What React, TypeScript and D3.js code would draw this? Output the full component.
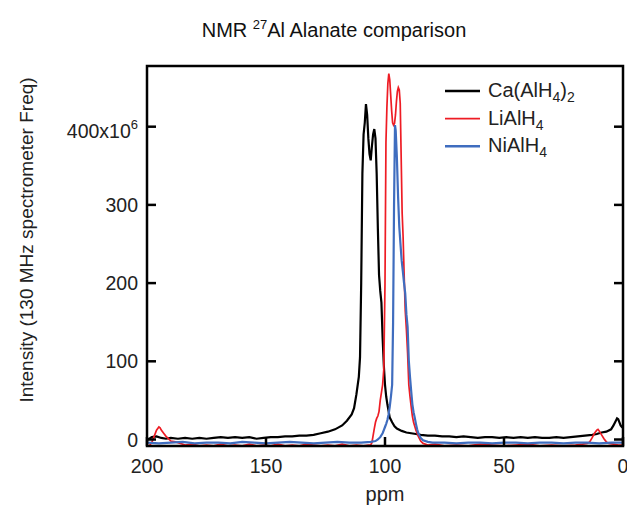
import React from "react";
import * as d3 from "d3";

// chemical shift (ppm) and intensity (x10^6)
const caPpm = [200,199,198,196,194,192,190,187,184,181,178,175,172,169,166,163,160,157,154,151,148,145,142,139,136,133,130,127,124,121,118,116,114,113,112,111,110.5,110,109.5,109,108.5,108,107.5,107,106.5,106,105.5,105,104.5,104,103.5,103,102.5,102,101.5,101,100.5,100,99.5,99,98,97,96,95,93,91,89,87,85,82,79,76,73,70,67,64,61,58,55,52,49,46,43,40,37,34,31,28,25,22,19,16,13,11,9,7,5,4,3,2.5,2,1.5,1,0.5,0];
const caVal = [0,1,3,4,2,1,2,1,2,1,2,1,2,3,2,3,2,3,1,2,3,3,4,4,5,5,6,8,10,13,18,24,32,40,58,80,105,200,340,390,405,429,415,385,365,357,375,390,397,385,340,270,210,190,175,130,95,70,55,45,28,22,17,14,11,9,8,7,6,5,5,4,4,3,4,3,2,3,3,2,3,2,3,2,3,2,2,3,2,3,4,5,6,7,9,10,13,18,24,27,26,22,18,16,15];

const liPpm = [200,199,198,197,196,195,194.5,194,193,192,191,190,188,186,184,181,178,175,172,169,166,163,160,157,154,151,148,145,142,139,136,133,130,127,124,121,118,115,112,109,107,106,105.5,105,104.5,104,103.5,103,102.5,102,101.5,101,100.5,100,99.6,99.2,98.8,98.4,98,97.6,97.2,96.8,96.4,96,95.6,95.2,94.8,94.4,94,93.6,93.2,92.8,92.4,92,91.5,91,90.5,90,89.5,89,88.5,88,87,86,85,84,82,79,75,70,65,60,55,50,45,40,35,30,25,20,17,15,14,13,12,11,10.5,10,9,8,7,6,4,2,0];
const liVal = [-8,-8,-4,4,12,16,15,12,8,4,1,-2,-3,-5,-7,-6,-8,-7,-8,-6,-8,-7,-8,-6,-8,-7,-8,-6,-8,-7,-8,-6,-7,-8,-7,-8,-6,-8,-7,-8,-7,-7,-4,5,14,22,27,30,36,50,60,70,90,200,380,425,455,468,460,440,420,405,402,404,415,432,445,450,447,430,360,290,260,215,165,140,110,70,55,42,30,22,12,4,-2,-5,-7,-6,-8,-7,-8,-6,-7,-8,-7,-6,-8,-7,-8,-7,-6,-5,-3,2,8,12,13,11,6,1,-3,-5,-6,-7,-7];

const niPpm = [200,195,190,185,180,175,170,165,160,155,150,145,140,135,130,125,120,115,110,106,104,103,102,101,100.5,100,99.5,99,98.5,98,97.5,97,96.6,96.2,95.8,95.5,95,94.5,94,93.5,93,92.5,92,91.5,91,90.5,90,89.5,89,88.5,88,87.5,87,86.5,86,85,84,82,80,75,70,65,60,55,50,45,40,35,30,25,20,15,10,5,0];
const niVal = [-4,-5,-4,-3,-5,-4,-4,-5,-3,-4,-5,-4,-3,-4,-5,-4,-3,-4,-4,-3,-2,0,3,8,12,16,20,25,32,42,55,70,150,300,402,395,360,310,272,250,229,215,200,187,160,144,101,80,62,45,35,28,20,13,8,2,-1,-3,-4,-4,-5,-4,-4,-5,-4,-4,-5,-4,-4,-5,-4,-4,-5,-4,-4];

const seriesNames = ["Ca(AlH4)2", "LiAlH4", "NiAlH4"];
const seriesColors = ["#000000", "#ee1c24", "#3f6dbf"];
const xTicks = [200, 150, 100, 50, 0];
const yTicks = [0, 100, 200, 300, 400];

const font = "'Liberation Sans', Arial, sans-serif";

const App = () => {
  const left = 147, right = 623, top = 66, bottom = 446;
  const x = d3.scaleLinear().domain([200, 0]).range([left, right]);
  const y = d3.scaleLinear().domain([-8.3, 477.6]).range([bottom, top]);

  const line = d3
    .line<[number, number]>()
    .x((d) => x(d[0]))
    .y((d) => y(d[1]));

  const series = [
    { ppm: caPpm, val: caVal, width: 2.2 },
    { ppm: liPpm, val: liVal, width: 1.7 },
    { ppm: niPpm, val: niVal, width: 2.2 },
  ].map((s, i) => ({
    name: seriesNames[i],
    color: seriesColors[i],
    width: s.width,
    pts: s.ppm.map((p, j) => [p, s.val[j]] as [number, number]),
  }));

  const tickLen = 9;

  // legend labels with subscripts
  const legendLabel = (name: string) => {
    if (name === "Ca(AlH4)2")
      return (
        <>
          Ca(AlH
          <tspan dy={5} fontSize={14}>4</tspan>
          <tspan dy={-5}>)</tspan>
          <tspan dy={5} fontSize={14}>2</tspan>
        </>
      );
    const base = name.replace("4", "");
    return (
      <>
        {base}
        <tspan dy={5} fontSize={14}>4</tspan>
      </>
    );
  };

  return (
    <svg
      width={627}
      height={506}
      style={{ position: "absolute", left: 0, top: 0, background: "#fff" }}
      fontFamily={font}
    >
      <text x={334} y={37} textAnchor="middle" fontSize={20} fill="#111">
        NMR{" "}
        <tspan dy={-8} fontSize={13}>27</tspan>
        <tspan dy={8}>Al Alanate comparison</tspan>
      </text>

      <g>
        {series.map((s) => (
          <path
            key={s.name}
            d={line(s.pts) || ""}
            fill="none"
            stroke={s.color}
            strokeWidth={s.width}
            strokeLinejoin="miter"
          />
        ))}
      </g>

      <rect
        x={left}
        y={top}
        width={right - left}
        height={bottom - top}
        fill="none"
        stroke="#000"
        strokeWidth={2.5}
      />

      {yTicks.map((t) => (
        <g key={"y" + t}>
          <line x1={left} x2={left + tickLen} y1={y(t)} y2={y(t)} stroke="#000" strokeWidth={2.5} />
          <line x1={right} x2={right - tickLen} y1={y(t)} y2={y(t)} stroke="#000" strokeWidth={2.5} />
          {t === 400 ? (
            <text x={138} y={y(t) + 11} textAnchor="end" fontSize={19.5} fill="#222">
              400x10
              <tspan dy={-9} fontSize={13}>6</tspan>
            </text>
          ) : (
            <text x={138} y={y(t) + 7} textAnchor="end" fontSize={19.5} fill="#222">
              {t}
            </text>
          )}
        </g>
      ))}

      {xTicks.map((t) => (
        <g key={"x" + t}>
          <line x1={x(t)} x2={x(t)} y1={bottom} y2={bottom - tickLen} stroke="#000" strokeWidth={2.5} />
          <text x={x(t)} y={473} textAnchor="middle" fontSize={19.5} fill="#222">
            {t}
          </text>
        </g>
      ))}

      <text x={385} y={501} textAnchor="middle" fontSize={20} fill="#222">
        ppm
      </text>
      <text
        transform="translate(33,240) rotate(-90)"
        textAnchor="middle"
        fontSize={19}
        fill="#222"
      >
        Intensity (130 MHz spectrometer Freq)
      </text>

      {series.map((s, i) => (
        <g key={"leg" + i}>
          <line
            x1={445}
            x2={480}
            y1={91 + i * 27.6}
            y2={91 + i * 27.6}
            stroke={s.color}
            strokeWidth={i === 1 ? 1.7 : 2.5}
          />
          <text x={488} y={97 + i * 27.6} fontSize={20} fill="#222">
            {legendLabel(s.name)}
          </text>
        </g>
      ))}
    </svg>
  );
};

export default App;
